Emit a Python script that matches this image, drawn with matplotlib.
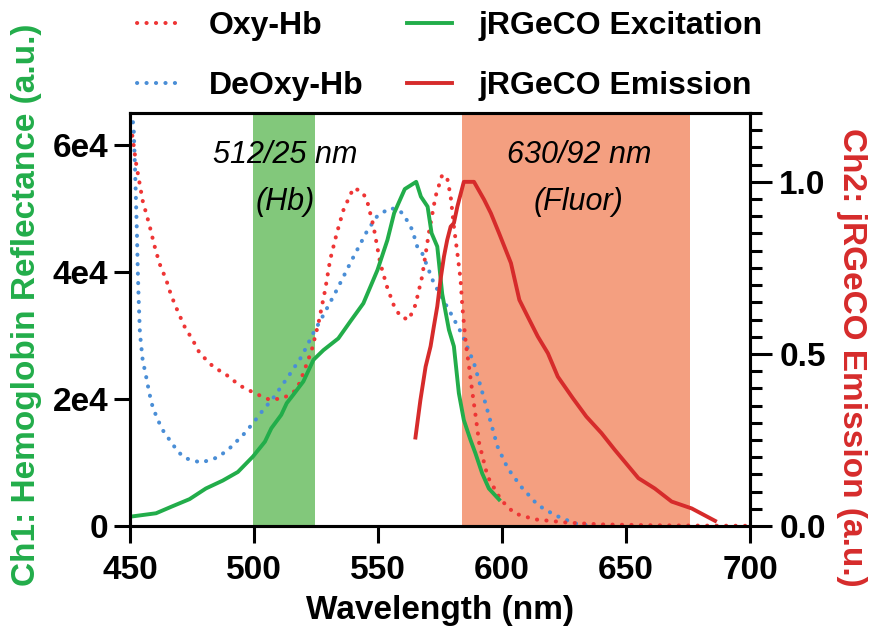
import matplotlib.pyplot as plt
from matplotlib.ticker import MultipleLocator, FixedLocator
from matplotlib.lines import Line2D

plt.rcParams['font.family'] = ['Liberation Sans', 'DejaVu Sans']

# Oxy-Hb reflectance (left axis)
oxy_wl = [450, 451, 452.4, 453.7, 455.1, 457.8, 459.8, 461.9, 464.6, 466.6, 469.3, 472, 475.4,
          478.1, 483.5, 488.9, 494.3, 500.3, 506.4, 511.8, 517.2, 519.9, 523.3, 526, 528.7,
          530.7, 533.4, 536.1, 540.1, 543.5, 545.5, 548.2, 550.9, 553.6, 556.3, 559, 562.4,
          565.1, 567.8, 570.5, 573.2, 575.9, 577.9, 579.3, 580.6, 582, 583.3, 584, 585.4,
          586.7, 588.1, 589.4, 590.8, 594.2, 599.6, 605, 613.1, 626.6, 640, 660, 680, 700]
oxy_val = [62890, 61320, 57200, 54300, 51200, 47410, 44200, 41300, 38750, 36300, 33750, 31390,
           29190, 27200, 25090, 23780, 22100, 20900, 19850, 20110, 21420, 24050, 27720, 31920,
           37170, 41900, 46100, 49770, 53190, 52650, 51350, 47140, 41370, 37690, 34810, 32970,
           32450, 34810, 39270, 46100, 51870, 55280, 54760, 51870, 47140, 42950, 38750, 34540,
           28780, 25090, 20900, 17220, 13030, 7770, 4100, 2000, 1050, 520, 250, 120, 60, 30]

# DeOxy-Hb reflectance (left axis)
deoxy_wl = [450, 451.5, 452, 452.4, 452.8, 453.1, 453.5, 454, 455.1, 456.5, 457.8, 459.1, 461.2,
            463.9, 466, 469.3, 472.4, 478.7, 485.5, 490.2, 495.6, 499.6, 503.7, 507.7, 513.8,
            519.2, 523.9, 527.3, 533.4, 539.5, 545.5, 549.6, 554.7, 558.3, 560.4, 563.8, 565.8,
            567.8, 572.5, 579.3, 584, 588.7, 593.5, 598.2, 602.3, 607.7, 614.4, 621.2, 629.3,
            636.8]
deoxy_val = [68000, 62370, 56590, 51350, 46100, 40840, 35600, 30350, 26150, 23520, 20900, 18790,
             16700, 14600, 13550, 11700, 10660, 9970, 10820, 12240, 14330, 16180, 18270, 20110,
             23520, 26670, 30350, 32710, 37170, 41900, 46350, 48720, 50040, 49770, 48980, 46620,
             43990, 42950, 38230, 33500, 30080, 25630, 19060, 12490, 9090, 6190, 3310, 1730, 420,
             0]

# jRGeCO excitation (right axis)
exc_wl = [450, 460.5, 467, 474, 480.6, 487.4, 493.5, 499.6, 504.4, 507, 511, 513.2, 515.8, 519.9,
          524, 528, 534, 538.8, 544.1, 549.8, 553.8, 556.5, 560.8, 565.4, 567.3, 570, 571.6,
          573.9, 575.9, 578.6, 580.6, 582.6, 584.6, 587.3, 589.3, 592, 594.7, 598.8]
exc_val = [0.027, 0.037, 0.057, 0.078, 0.109, 0.132, 0.157, 0.202, 0.245, 0.284, 0.323, 0.357,
           0.381, 0.420, 0.483, 0.511, 0.545, 0.594, 0.647, 0.744, 0.831, 0.909, 0.979, 1.0,
           0.957, 0.928, 0.851, 0.812, 0.674, 0.570, 0.522, 0.386, 0.308, 0.250, 0.211, 0.153,
           0.109, 0.077]

# jRGeCO emission (right axis)
emi_wl = [565.1, 567.1, 569.2, 571.2, 572.5, 573.9, 575.2, 576.6, 577.9, 579.3, 580.6, 582,
          584.6, 588.7, 592.8, 595.5, 598.8, 603.6, 607, 610.4, 614.4, 618.5, 622.5, 628.6, 634,
          640.1, 645.5, 655, 661.6, 668.4, 676.5, 685.9]
emi_val = [0.257, 0.366, 0.463, 0.522, 0.579, 0.638, 0.715, 0.783, 0.831, 0.870, 0.880, 0.928,
           1.0, 1.0, 0.948, 0.909, 0.851, 0.764, 0.657, 0.608, 0.551, 0.502, 0.434, 0.371,
           0.318, 0.270, 0.221, 0.139, 0.109, 0.071, 0.051, 0.015]

# filter bands (center/width, nm)
hb_band = (512, 25)
fluor_band = (630, 92)

c_green = '#22ad4a'
c_red = '#d62b2b'
c_oxy = '#ee3535'
c_blue = '#4a8ed6'

fig = plt.figure(figsize=(8.71, 6.39), dpi=100)
ax = fig.add_axes([130 / 871, 1 - 526 / 639, 620 / 871, 413 / 639])
ax2 = ax.twinx()

ax.axvspan(hb_band[0] - hb_band[1] / 2, hb_band[0] + hb_band[1] / 2, color='#82c87b', lw=0, zorder=0)
ax.axvspan(fluor_band[0] - fluor_band[1] / 2, fluor_band[0] + fluor_band[1] / 2, color='#f49f80', lw=0, zorder=0)

dot = (0, (0.05, 2.3))
ax.plot(deoxy_wl, deoxy_val, color=c_blue, lw=2.9, ls=dot, dash_capstyle='round')
ax.plot(oxy_wl, oxy_val, color=c_oxy, lw=2.9, ls=dot, dash_capstyle='round')
ax2.plot(exc_wl, exc_val, color=c_green, lw=2.8)
ax2.plot(emi_wl, emi_val, color=c_red, lw=2.8)

# filter annotations
xt = ax.get_xaxis_transform()
ax.text(512.5, 0.879, '512/25 nm', transform=xt, ha='center', va='baseline', fontsize=22, style='italic')
ax.text(512.5, 0.765, '(Hb)', transform=xt, ha='center', va='baseline', fontsize=22, style='italic')
ax.text(631, 0.879, '630/92 nm', transform=xt, ha='center', va='baseline', fontsize=22, style='italic')
ax.text(631, 0.765, '(Fluor)', transform=xt, ha='center', va='baseline', fontsize=22, style='italic')

ax.set_xlim(450, 700)
ax.set_ylim(0, 65000)
ax2.set_ylim(0, 1.2)
ax.xaxis.set_major_locator(FixedLocator([450, 500, 550, 600, 650, 700]))
ax.yaxis.set_major_locator(FixedLocator([0, 20000, 40000, 60000]))
ax.set_yticklabels(['0', '2e4', '4e4', '6e4'])
ax2.yaxis.set_major_locator(FixedLocator([0, 0.5, 1.0]))
ax2.yaxis.set_minor_locator(MultipleLocator(0.05))
ax2.yaxis.set_major_formatter(plt.FuncFormatter(lambda v, p: f'{v:.1f}'))

for a in (ax, ax2):
    for s in a.spines.values():
        s.set_linewidth(2.2)
ax.tick_params(axis='both', which='major', width=2.2, labelsize=24, direction='out')
ax.tick_params(axis='x', length=12, pad=9)
ax.tick_params(axis='y', length=11.5, pad=4)
ax2.tick_params(axis='y', which='major', length=16, width=2.2, labelsize=24, pad=5)
ax2.tick_params(axis='y', which='minor', length=8.5, width=2.2)
for lab in ax.get_xticklabels() + ax.get_yticklabels() + ax2.get_yticklabels():
    lab.set_fontweight('bold')

fig.text(440 / 871, 1 - 610 / 639, 'Wavelength (nm)', ha='center', va='center', fontsize=24, fontweight='bold')
fig.text(27 / 871, 1 - 305 / 639, 'Ch1: Hemoglobin Reflectance (a.u.)', rotation=90, ha='center', va='center',
         fontsize=24, fontweight='bold', color=c_green)
fig.text(851 / 871, 1 - 357 / 639, 'Ch2: jRGeCO Emission (a.u.)', rotation=270, ha='center', va='center',
         fontsize=24, fontweight='bold', color=c_red)

handles = [Line2D([], [], color=c_oxy, lw=2.9, ls=dot, dash_capstyle='round'),
           Line2D([], [], color=c_blue, lw=2.9, ls=dot, dash_capstyle='round'),
           Line2D([], [], color=c_green, lw=2.8),
           Line2D([], [], color=c_red, lw=2.8)]
labels = ['Oxy-Hb', 'DeOxy-Hb', 'jRGeCO Excitation', 'jRGeCO Emission']
leg = fig.legend(handles, labels, ncol=2, loc='upper left', bbox_to_anchor=(121 / 871, 1 + 5 / 639),
                 frameon=False, borderpad=0, handlelength=1.4, handletextpad=0.85,
                 columnspacing=1.36, labelspacing=0.94, prop={'size': 23, 'weight': 'bold'})

fig.savefig('out.png', dpi=100)
